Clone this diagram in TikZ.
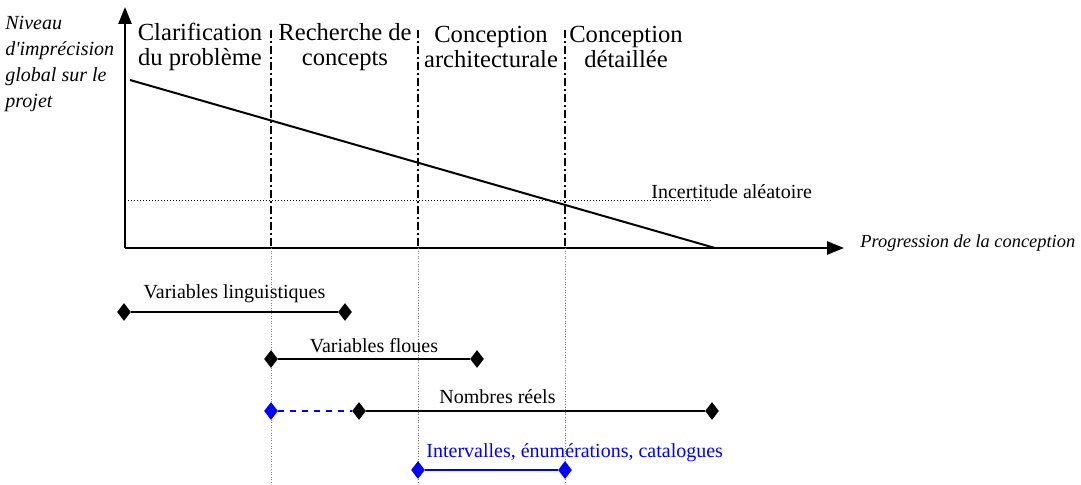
\documentclass[tikz,border=0pt]{standalone}
\usepackage{fontspec}
\setmainfont{Liberation Serif}
\usetikzlibrary{arrows.meta}
\usetikzlibrary{shapes.geometric}
\tikzset{% 
    dia/.style={diamond,inner sep=0pt,minimum width=7pt,minimum height=9pt,fill=black},
    axe/.style={line width=1.3pt,-{Triangle[length=8.5pt,width=6.5pt]}}
}

\begin{document}
\begin{tikzpicture}[
                x=0.5pt, y=-0.5pt,
                phase/.style={dash pattern=on 4pt off 1.6pt on 0.8pt off 1.6pt, line width=0.8pt},
                guide/.style={gray, densely dotted, line width=0.3pt},
                lbl/.style={font=\fontsize{10}{12}\selectfont, inner sep=0pt},
                ital/.style={font=\fontsize{10}{13}\selectfont\itshape, inner sep=0pt},
                ttl/.style={font=\fontsize{12.3}{12.5}\selectfont, align=center}
            ]
            \useasboundingbox (0,0) rectangle (1081,485);
            % axes
            \coordinate (O) at (125,248);
            \coordinate (ytip) at (125,7);
            \coordinate (xtip) at (844,248);
            \draw[axe] (O) -- (ytip);
            \draw[axe] (O) -- (xtip);
            \node[ital, anchor=north west, align=left] (ylab) at (5,16)
                {Niveau\\d\textquotesingle imprécision\\global sur le\\projet};
            \node[ital, font=\fontsize{9.2}{11}\selectfont\itshape, anchor=west] (xlab) at (860,243) {Progression de la conception};

            % phases
            \foreach \x/\n in {271/p1, 418/p2, 565/p3}{
                \coordinate (\n t) at (\x,30);
                \coordinate (\n a) at (\x,248);
                \coordinate (\n b) at (\x,485);
                \draw[phase] (\n t) -- (\n a);
                \draw[guide] (\n a) -- (\n b);
            }
            \node[ttl] (c1) at (200,47) {Clarification\\du problème};
            \node[ttl] (c2) at (345,47) {Recherche de\\concepts};
            \node[ttl] (c3) at (491,47) {Conception\\architecturale};
            \node[ttl] (c4) at (626,47) {Conception\\détaillée};

            % imprecision
            \coordinate (d1) at (130,80);
            \coordinate (d2) at (715,248);
            \draw[line width=1pt] (d1) -- (d2);
            \coordinate (h1) at (125,201);
            \coordinate (h2) at (713,201);
            \draw[densely dotted, line width=0.5pt] (h1) -- (h2);
            \node[lbl, anchor=west] (inc) at (651,192) {Incertitude aléatoire};

            % representations
            \node[dia] (l1) at (124,312){};
            \node[dia] (l2) at (345,312){};
            \draw[line width=1pt] (l1) -- node[lbl, above=4pt]{Variables linguistiques} (l2);

            \node[dia] (f1) at (271,359){};
            \node[dia] (f2) at (477,359){};
            \draw[line width=1pt] (f1) -- node[lbl, above=2.5pt]{Variables floues} (f2);

            \node[dia,blue] (r0) at (271,411){};
            \node[dia] (r1) at (359,411){};
            \node[dia] (r2) at (712,411){};
            \draw[line width=1pt, blue, dashed] (r0) -- (r1);
            \draw[line width=1pt] (r1) -- node[lbl, above=3pt, xshift=-19pt]{Nombres réels} (r2);

            \node[dia,blue] (i1) at (418,470){};
            \node[dia,blue] (i2) at (565,470){};
            \draw[line width=1pt, blue] (i1) -- (i2);
            \node[lbl, blue, anchor=west] (itv) at (426,453) {Intervalles, énumérations, catalogues};
        \end{tikzpicture}
\end{document}
